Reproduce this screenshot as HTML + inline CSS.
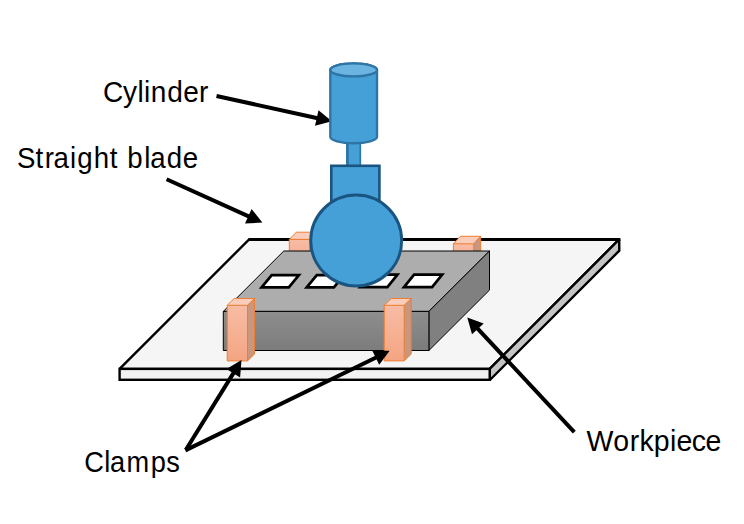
<!DOCTYPE html>
<html>
<head>
<meta charset="utf-8">
<title>Diagram</title>
<style>
html,body{margin:0;padding:0;background:#fff;}
body{width:744px;height:524px;overflow:hidden;}
svg{display:block;}
text{font-family:"Liberation Sans",sans-serif;fill:#000;}
</style>
</head>
<body>
<svg width="744" height="524" viewBox="0 0 744 524">
<defs>
<linearGradient id="gFront" x1="0" y1="0" x2="0" y2="1">
<stop offset="0" stop-color="#8e8e8e"/><stop offset="1" stop-color="#7c7c7c"/>
</linearGradient>
<linearGradient id="cFront" x1="0" y1="0" x2="0" y2="1">
<stop offset="0" stop-color="#f7bca4"/><stop offset="1" stop-color="#f4a582"/>
</linearGradient>
</defs>
<rect width="744" height="524" fill="#fff"/>

<!-- base plate -->
<g stroke="#000" stroke-width="2.4" stroke-linejoin="miter" stroke-miterlimit="2">
<polygon points="119.6,368.9 249.1,239.4 619.2,239.4 489.7,368.9" fill="#f5f5f5"/>
<polygon points="489.7,368.9 619.2,239.4 619.3,250.7 489.9,380" fill="#c4c4c4"/>
<rect x="119.6" y="368.9" width="370.1" height="10.9" fill="#f2f2f2"/>
</g>
<rect x="248.6" y="238" width="371.8" height="3" fill="#000"/>

<!-- back clamps -->
<g transform="translate(289.3,232.2)">
<polygon points="0,7.2 7.0,0 27.3,0 20.3,7.2" fill="#f9cdb9"/>
<polygon points="20.3,7.2 27.3,0 27.3,32.8 20.3,40" fill="#c9967f"/>
<rect x="0" y="7.2" width="20.3" height="32.8" fill="url(#cFront)"/>
<path d="M0,7.2 L7.0,0 L27.3,0 L27.3,32.8 L20.3,40 L0,40 Z M0,7.2 L20.3,7.2 L27.3,0 M20.3,7.2 L20.3,40" fill="none" stroke="#ed7d31" stroke-width="1.0" stroke-linejoin="round"/>
</g>
<g transform="translate(453.4,236.3)">
<polygon points="0,7.5 7.0,0 27.3,0 20.3,7.5" fill="#f9cdb9"/>
<polygon points="20.3,7.5 27.3,0 27.3,32.5 20.3,40" fill="#c9967f"/>
<rect x="0" y="7.5" width="20.3" height="32.5" fill="url(#cFront)"/>
<path d="M0,7.5 L7.0,0 L27.3,0 L27.3,32.5 L20.3,40 L0,40 Z M0,7.5 L20.3,7.5 L27.3,0 M20.3,7.5 L20.3,40" fill="none" stroke="#ed7d31" stroke-width="1.0" stroke-linejoin="round"/>
</g>

<!-- workpiece -->
<g stroke="#000" stroke-width="1" stroke-linejoin="round">
<polygon points="223.3,311.4 283.8,251 489.5,251 428.9,311.4" fill="#adadad"/>
<polygon points="428.9,311.4 489.5,251 489.5,290.1 428.9,350.5" fill="#808080"/>
<rect x="223.3" y="311.4" width="205.6" height="39.1" fill="url(#gFront)"/>
</g>

<!-- holes -->
<g stroke="#000" stroke-width="2.7" fill="#fff" stroke-linejoin="miter">
<polygon points="261.6,287.4 271.7,275.1 298.9,275.1 288.8,287.4"/>
<polygon points="306.7,287.4 316.8,275.1 344.0,275.1 333.9,287.4"/>
<polygon points="360.2,287.2 370.3,274.6 397.5,274.6 387.4,287.2"/>
<polygon points="404.0,287.2 414.1,274.6 442.2,274.6 432.1,287.2"/>
</g>

<!-- front clamps -->
<g transform="translate(227.2,298.5)">
<polygon points="0,6.8 7.0,0 27.3,0 20.3,6.8" fill="#f9cdb9"/>
<polygon points="20.3,6.8 27.3,0 27.3,55.6 20.3,62.4" fill="#c9967f"/>
<rect x="0" y="6.8" width="20.3" height="55.6" fill="url(#cFront)"/>
<path d="M0,6.8 L7.0,0 L27.3,0 L27.3,55.6 L20.3,62.4 L0,62.4 Z M0,6.8 L20.3,6.8 L27.3,0 M20.3,6.8 L20.3,62.4" fill="none" stroke="#ed7d31" stroke-width="1.0" stroke-linejoin="round"/>
</g>
<g transform="translate(384.2,298.5)">
<polygon points="0,6.8 7.0,0 27.0,0 20.0,6.8" fill="#f9cdb9"/>
<polygon points="20.0,6.8 27.0,0 27.0,55.6 20.0,62.4" fill="#c9967f"/>
<rect x="0" y="6.8" width="20.0" height="55.6" fill="url(#cFront)"/>
<path d="M0,6.8 L7.0,0 L27.0,0 L27.0,55.6 L20.0,62.4 L0,62.4 Z M0,6.8 L20.0,6.8 L27.0,0 M20.0,6.8 L20.0,62.4" fill="none" stroke="#ed7d31" stroke-width="1.0" stroke-linejoin="round"/>
</g>

<!-- cylinder arrow (under cylinder) -->
<g stroke="#000" stroke-width="4" fill="none"><line x1="216.5" y1="96.0" x2="317.7" y2="118.2"/></g>
<g fill="#000"><polygon points="331.9,121.3 315.0,125.8 318.5,110.2"/></g>

<!-- blade assembly -->
<rect x="346" y="138" width="15" height="30" fill="#45a0d8"/>
<line x1="347.4" y1="138" x2="347.4" y2="166" stroke="#2e75a6" stroke-width="2.8"/>
<line x1="360.3" y1="138" x2="360.3" y2="166" stroke="#2e75a6" stroke-width="1.7"/>
<g stroke="#2e75a6" stroke-width="2.4">
<path d="M330.3,69.9 L330.3,136.8 A23.35,6.5 0 0 0 377,136.8 L377,69.9 A23.35,6.5 0 0 0 330.3,69.9 Z" fill="#45a0d8"/>
<ellipse cx="353.65" cy="69.9" rx="23.35" ry="6.5" fill="#6bb3e1"/>
</g>
<rect x="331.3" y="165.8" width="48.1" height="50" fill="#45a0d8" stroke="#1a5480" stroke-width="2.6"/>
<circle cx="356.2" cy="240.5" r="45.45" fill="#45a0d8" stroke="#1a5480" stroke-width="2.9"/>

<!-- arrows -->
<g stroke="#000" stroke-width="4" fill="none">
<line x1="166.6" y1="179.2" x2="249.2" y2="216.6"/>
<line x1="185.9" y1="449.7" x2="233.9" y2="372.4"/>
<line x1="185.3" y1="450.4" x2="376.6" y2="357.2"/>
<line x1="574.3" y1="432.1" x2="477.2" y2="328.1"/>
</g>
<g fill="#000">
<polygon points="262.4,222.6 245.0,223.5 251.6,208.9"/>
<polygon points="241.5,360.1 240.1,377.5 226.5,369.1"/>
<polygon points="389.6,350.8 379.2,364.8 372.2,350.4"/>
<polygon points="467.3,317.5 483.7,323.4 472.0,334.3"/>
</g>

<!-- labels -->
<text transform="scale(0.948,1)" x="108.7 129.7 145.0 152.0 159.1 176.5 193.2 210.0" y="101.6" font-size="29.6">Cylinder</text>
<text transform="scale(0.934,1)" x="18.3 38.0 47.8 57.3 74.9 82.7 100.5 117.6 124.6 136.3 154.4 160.9 178.5 195.8" y="167.7" font-size="29.6">Straight blade</text>
<text transform="scale(0.920,1)" x="91.6 113.4 119.7 137.5 164.0 180.6" y="472.1" font-size="29.6">Clamps</text>
<text transform="scale(0.962,1)" x="609.6 637.6 654.7 664.7 679.7 696.6 703.2 719.1 733.4" y="450.8" font-size="29.6">Workpiece</text>
</svg>
</body>
</html>
